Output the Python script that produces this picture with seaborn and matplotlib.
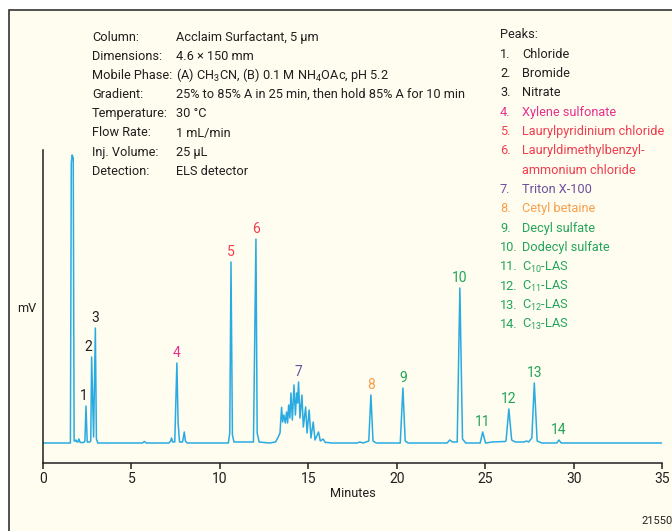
import matplotlib
matplotlib.use("Agg")
import matplotlib.pyplot as plt
from matplotlib.patches import Rectangle
import seaborn as sns

# ---- chromatogram trace (minutes, signal in px above axis) ----
trace_min = [
    0, 1.55, 1.60, 1.65, 1.71, 1.76,                      # solvent front
    1.82, 1.87, 1.92, 1.97, 2.03, 2.10, 2.30,
    2.37, 2.43, 2.50,                                      # 1
    2.65, 2.70, 2.75, 2.86, 2.96, 3.02, 3.10,              # 2, 3
    5.62, 5.73, 5.84,
    7.12, 7.22, 7.27, 7.33, 7.45, 7.57, 7.64, 7.72,        # 4
    7.89, 7.99, 8.05, 8.15,
    10.48, 10.56, 10.63, 10.71, 10.80,                     # 5
    11.90, 12.04, 12.11, 12.22,                            # 6
    12.80, 13.15, 13.30, 13.40,                            # 7 cluster
    13.49, 13.55, 13.62, 13.70, 13.77, 13.83, 13.89, 13.96,
    14.02, 14.10, 14.19, 14.27, 14.34, 14.39, 14.45, 14.53,
    14.64, 14.72, 14.85, 14.93, 15.05, 15.15, 15.28, 15.38,
    15.58, 15.68, 15.84, 15.96, 16.10, 16.30,
    17.75, 17.92, 18.10, 18.42, 18.54, 18.66, 18.85,       # 8
    20.20, 20.35, 20.48, 20.65,                            # 9
    22.85, 23.00, 23.15, 23.42, 23.57, 23.72, 23.90,       # 10
    24.72, 24.86, 25.02, 25.40,                            # 11
    26.12, 26.18, 26.34, 26.50, 26.70,                     # 12
    27.20, 27.34, 27.46, 27.64, 27.78, 27.94, 28.20,       # 13
    29.05, 29.17, 29.30, 35,                               # 14
]
trace_mv = [
    20, 20, 300, 308, 305, 22,
    22, 23, 21, 21, 24, 20.5, 20.5,
    22, 57, 21,
    21, 22, 106, 26, 135, 24, 20,
    20, 21.5, 20,
    20, 22, 25, 21, 21, 100, 40, 21,
    21, 31, 22, 20,
    20, 30, 201, 28, 21,
    21, 224, 30, 21,
    20, 21, 26, 30,
    55.7, 41, 48, 40, 51, 40, 58, 45,
    70, 43, 78, 48, 70, 60, 81, 45,
    68, 36, 56, 30, 53, 25, 41, 23,
    31, 22, 24, 20.5, 20.5, 20,
    20, 21, 20, 22, 68, 22, 20,
    20, 75, 22, 20,
    20, 23, 21, 21, 175, 24, 20,
    20, 31, 20, 21,
    21.5, 22, 54, 23, 21,
    21, 22, 21, 25, 80, 22, 20,
    20, 23, 20, 20,
]
assert len(trace_min) == len(trace_mv)

# ---- peak labels ----
peak_ids = ["1", "2", "3", "4", "5", "6", "7", "8", "9", "10", "11", "12", "13", "14"]
peak_min = [2.43, 2.75, 2.96, 7.57, 10.63, 12.04, 14.45, 18.54, 20.35, 23.57, 24.86, 26.34, 27.78, 29.17]
peak_mv = [57, 106, 135, 100, 201, 224, 81, 68, 75, 175, 31, 54, 80, 23]
peak_names = [
    "Chloride", "Bromide", "Nitrate", "Xylene sulfonate", "Laurylpyridinium chloride",
    "Lauryldimethylbenzyl-\nammonium chloride", "Triton X-100", "Cetyl betaine",
    "Decyl sulfate", "Dodecyl sulfate",
    "C$_{10}$-LAS", "C$_{11}$-LAS", "C$_{12}$-LAS", "C$_{13}$-LAS",
]

cond_keys = ["Column:", "Dimensions:", "Mobile Phase:", "Gradient:", "Temperature:",
             "Flow Rate:", "Inj. Volume:", "Detection:"]
cond_vals = ["Acclaim Surfactant, 5 µm", "4.6 × 150 mm",
             "(A) CH$_3$CN, (B) 0.1 M NH$_4$OAc, pH 5.2",
             "25% to 85% A in 25 min, then hold 85% A for 10 min",
             "30 °C", "1 mL/min", "25 µL", "ELS detector"]

x_ticks = [0, 5, 10, 15, 20, 25, 30, 35]

# colours
BLACK = "#231f20"
PINK = "#e6308c"
RED = "#ee3e4f"
PURPLE = "#6b4f9e"
ORANGE = "#f6a04d"
GREEN = "#22a55b"
peak_colors = [BLACK, BLACK, BLACK, PINK, RED, RED, PURPLE, ORANGE] + [GREEN] * 6
LINE = "#29abe2"
CREAM = "#fffdf0"

FONT = "Roboto"
FS = 9.2

sns.set_theme(style="white")
plt.rcParams["font.family"] = [FONT, "DejaVu Sans"]
plt.rcParams["mathtext.fontset"] = "custom"
plt.rcParams["mathtext.rm"] = FONT
plt.rcParams["mathtext.it"] = FONT + ":italic"
plt.rcParams["mathtext.default"] = "regular"

W, H = 672, 531
fig = plt.figure(figsize=(W / 100, H / 100), dpi=100, facecolor="white")

# outer frame (runs off the right and bottom edges)
frame = Rectangle((9 / W, -0.1), 1.2, (H - 10) / H + 0.1, transform=fig.transFigure,
                  facecolor=CREAM, edgecolor="#333333", linewidth=1.2, zorder=-10)
fig.add_artist(frame)

ax = fig.add_axes([43 / W, (H - 463) / H, (662 - 43) / W, (463 - 150) / H])
ax.set_facecolor("none")

sns.lineplot(x=trace_min, y=trace_mv, ax=ax, color=LINE, linewidth=1.1,
             estimator=None, sort=False)

ax.set_xlim(0, 35)
ax.set_ylim(0, 313)
ax.set_xticks(x_ticks)
ax.set_xticklabels([str(t) for t in x_ticks], fontsize=10, color=BLACK)
ax.set_yticks([])
ax.tick_params(axis="x", direction="out", length=4, width=1.1, color=BLACK, pad=2.5, bottom=True)
for side in ["top", "right"]:
    ax.spines[side].set_visible(False)
for side in ["left", "bottom"]:
    ax.spines[side].set_color(BLACK)
    ax.spines[side].set_linewidth(1.1)
ax.set_xlabel("Minutes", fontsize=FS, color=BLACK, labelpad=1)
ax.set_ylabel("")

# peak numbers above each peak
label_dx = {"1": -2, "2": -3}
for pid, t, h, c in zip(peak_ids, peak_min, peak_mv, peak_colors):
    ax.annotate(pid, xy=(t, h), xytext=(label_dx.get(pid, 0) * 0.72, 7.5),
                textcoords="offset points", ha="center", va="center",
                fontsize=10, color=c)


def px_text(x, y, s, **kw):
    fig.text(x / W, 1 - y / H, s, va="center", **kw)


px_text(27, 308, "mV", fontsize=FS, color=BLACK, ha="center")

# conditions block
for i, (k, v) in enumerate(zip(cond_keys, cond_vals)):
    y = 37 + i * 19.2
    px_text(92, y, k, fontsize=FS, color=BLACK)
    px_text(176, y, v, fontsize=FS, color=BLACK)

# peak legend block
px_text(500, 35, "Peaks:", fontsize=FS, color=BLACK)
row = 1
for i, (name, c) in enumerate(zip(peak_names, peak_colors)):
    y = 35 + row * 19.33
    px_text(500, y, f"{i + 1}.", fontsize=FS, color=c)
    for j, part in enumerate(name.split("\n")):
        px_text(522, y + j * 19.33, part, fontsize=FS, color=c)
    row += len(name.split("\n"))

px_text(641, 521, "21550", fontsize=8, color=BLACK)

fig.savefig("out.png", dpi=100, facecolor="white")
